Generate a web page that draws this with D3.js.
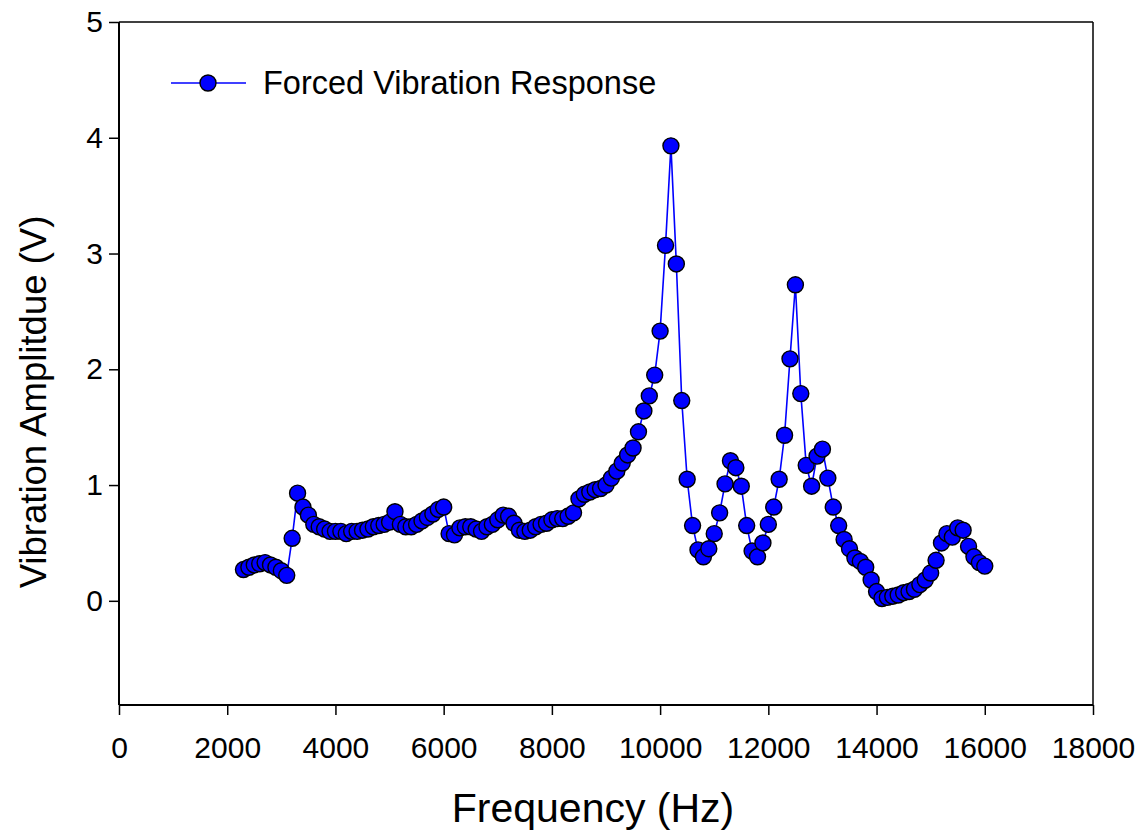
<!DOCTYPE html>
<html>
<head>
<meta charset="utf-8">
<script src="https://cdnjs.cloudflare.com/ajax/libs/d3/7.8.5/d3.min.js"></script>
<style>
  html, body { margin: 0; padding: 0; background: #fff; }
  svg { display: block; }
  text { font-family: "Liberation Sans", Arial, sans-serif; fill: #000; }
</style>
</head>
<body>
<svg id="chart" width="1146" height="835"></svg>
<script>
const frequencies = [
  2300,2400,2500,2600,2700,2800,2900,3000,3100,3200,3300,3400,3500,3600,3700,3800,3900,4000,
  4100,4200,4300,4400,4500,4600,4700,4800,4900,5000,5100,5200,5300,5400,5500,5600,5700,5800,
  5900,6000,6100,6200,6300,6400,6500,6600,6700,6800,6900,7000,7100,7200,7300,7400,7500,7600,
  7700,7800,7900,8000,8100,8200,8300,8400,8500,8600,8700,8800,8900,9000,9100,9200,9300,9400,
  9500,9600,9700,9800,9900,10000,10100,10200,10300,10400,10500,10600,10700,10800,10900,11000,
  11100,11200,11300,11400,11500,11600,11700,11800,11900,12000,12100,12200,12300,12400,12500,
  12600,12700,12800,12900,13000,13100,13200,13300,13400,13500,13600,13700,13800,13900,14000,
  14100,14200,14300,14400,14500,14600,14700,14800,14900,15000,15100,15200,15300,15400,15500,
  15600,15700,15800,15900,16000
];
const amplitudes = [
  0.27,0.29,0.31,0.32,0.33,0.31,0.29,0.26,0.22,0.54,0.93,0.81,0.74,0.66,0.64,0.62,0.60,0.60,
  0.60,0.58,0.60,0.60,0.61,0.62,0.64,0.65,0.66,0.68,0.77,0.66,0.64,0.64,0.66,0.69,0.72,0.75,
  0.79,0.81,0.58,0.57,0.63,0.64,0.64,0.62,0.60,0.64,0.66,0.70,0.74,0.73,0.67,0.61,0.60,0.61,
  0.64,0.66,0.67,0.70,0.71,0.71,0.73,0.76,0.88,0.92,0.94,0.96,0.97,1.00,1.06,1.12,1.19,1.26,
  1.32,1.46,1.64,1.77,1.95,2.33,3.07,3.93,2.91,1.73,1.05,0.65,0.44,0.38,0.45,0.58,
  0.76,1.01,1.21,1.15,0.99,0.65,0.43,0.38,0.50,0.66,0.81,1.05,1.43,2.09,2.73,
  1.79,1.17,0.99,1.25,1.31,1.06,0.81,0.65,0.53,0.45,0.37,0.34,0.29,0.18,0.08,
  0.02,0.03,0.04,0.05,0.07,0.08,0.10,0.14,0.18,0.24,0.35,0.50,0.58,0.55,0.63,
  0.61,0.47,0.38,0.33,0.30
];
const xTicks = [0,2000,4000,6000,8000,10000,12000,14000,16000,18000];
const yTicks = [0,1,2,3,4,5];
const seriesName = "Forced Vibration Response";
const xTitle = "Frequency (Hz)";
const yTitle = "Vibration Amplitdue (V)";

const svg = d3.select("#chart");
const L = 119, R = 1093, T = 22, B = 705;

const x = d3.scaleLinear().domain([0, 18000]).range([L, R]);
const y = d3.scaleLinear().domain([-0.9, 5]).range([B, T]);

const data = frequencies.map((f, i) => ({f, v: amplitudes[i]}));

// frame
svg.append("line").attr("x1", L).attr("x2", R).attr("y1", T).attr("y2", T)
  .attr("stroke", "#000").attr("stroke-width", 1.5);
svg.append("line").attr("x1", R).attr("x2", R).attr("y1", T).attr("y2", B)
  .attr("stroke", "#000").attr("stroke-width", 1.5);

// axes
const xAxis = svg.append("g").attr("transform", `translate(0,${B})`)
  .call(d3.axisBottom(x).tickValues(xTicks).tickFormat(d3.format("d")).tickSize(10).tickPadding(22));
const yAxis = svg.append("g").attr("transform", `translate(${L},0)`)
  .call(d3.axisLeft(y).tickValues(yTicks).tickFormat(d3.format("d")).tickSize(10).tickPadding(6));
[xAxis, yAxis].forEach(g => {
  g.select(".domain").attr("stroke", "#000").attr("stroke-width", 2);
  g.selectAll(".tick line").attr("stroke", "#000").attr("stroke-width", 1.5);
  g.selectAll(".tick text").attr("font-size", 30).attr("font-family", "Liberation Sans, Arial, sans-serif").attr("fill", "#000");
});
yAxis.select(".domain").attr("d", `M0,${T}V${B}`);
xAxis.select(".domain").attr("d", `M${L},0H${R}`);

// line
svg.append("path").datum(data)
  .attr("fill", "none").attr("stroke", "#0000ff").attr("stroke-width", 1.6)
  .attr("d", d3.line().x(d => x(d.f)).y(d => y(d.v)));

// markers
svg.append("g").selectAll("circle").data(data).join("circle")
  .attr("cx", d => x(d.f)).attr("cy", d => y(d.v)).attr("r", 8)
  .attr("fill", "#0000ff").attr("stroke", "#000").attr("stroke-width", 1.4);

// legend
const lg = svg.append("g");
lg.append("line").attr("x1", 171).attr("x2", 246).attr("y1", 83).attr("y2", 83)
  .attr("stroke", "#0000ff").attr("stroke-width", 1.6);
lg.append("circle").attr("cx", 208).attr("cy", 83).attr("r", 8)
  .attr("fill", "#0000ff").attr("stroke", "#000").attr("stroke-width", 1.4);
lg.append("text").attr("x", 263).attr("y", 83).attr("dy", "0.35em")
  .attr("font-size", 32.5).text(seriesName);

// titles
svg.append("text").attr("x", 593).attr("y", 822)
  .attr("text-anchor", "middle").attr("font-size", 41).text(xTitle);
svg.append("text").attr("transform", `translate(46,402) rotate(-90)`)
  .attr("text-anchor", "middle").attr("font-size", 36.5).text(yTitle);
</script>
</body>
</html>
